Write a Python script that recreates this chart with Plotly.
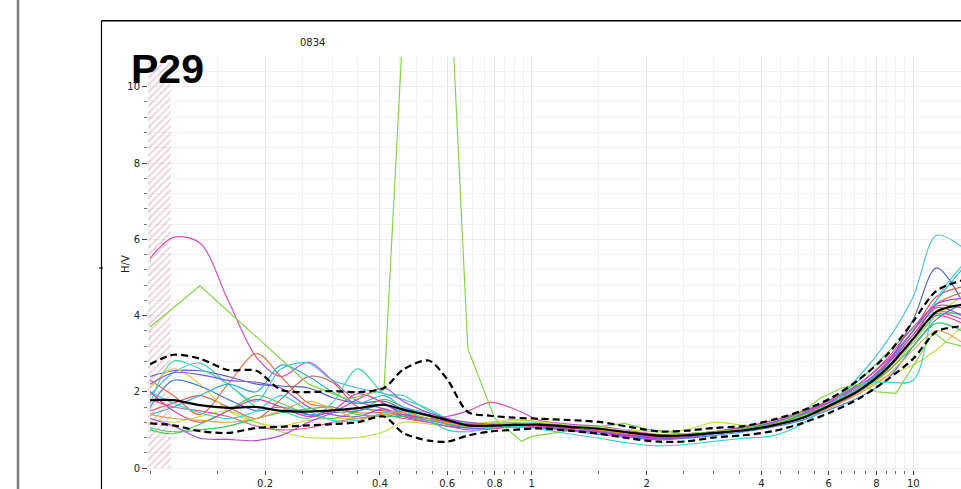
import plotly.graph_objects as go

# ---- H/V spectral ratio data (station P29, record 0834) ----
FREQ = [0.10, 0.115, 0.135, 0.16, 0.19, 0.22, 0.26, 0.30, 0.35, 0.41, 0.46, 0.537,
        0.60, 0.68, 0.78, 0.90, 1.05, 1.25, 1.5, 1.8, 2.15, 2.55, 3.0, 3.6, 4.3,
        5.1, 6.1, 7.2, 8.5, 10.0, 11.5, 13.4]

HV_MEAN = [1.78, 1.78, 1.65, 1.58, 1.60, 1.50, 1.48, 1.51, 1.57, 1.66, 1.53, 1.38,
           1.26, 1.12, 1.11, 1.13, 1.14, 1.08, 1.03, 0.93, 0.85, 0.86, 0.92, 0.99, 1.12,
           1.31, 1.66, 2.03, 2.60, 3.39, 4.10, 4.28]
HV_UPPER = [2.72, 2.97, 2.87, 2.57, 2.55, 2.05, 1.99, 2.02, 1.99, 2.10, 2.58, 2.82,
            2.33, 1.47, 1.37, 1.32, 1.29, 1.26, 1.21, 1.08, 0.96, 0.98, 1.05, 1.10, 1.27,
            1.50, 1.84, 2.32, 2.95, 3.85, 4.65, 4.92]
HV_LOWER = [1.17, 1.12, 0.97, 0.92, 1.05, 1.08, 1.12, 1.15, 1.20, 1.35, 0.92, 0.72,
            0.69, 0.85, 0.96, 1.00, 1.04, 0.98, 0.90, 0.78, 0.69, 0.70, 0.80, 0.86, 0.97,
            1.17, 1.47, 1.82, 2.30, 2.87, 3.58, 3.72]

# individual time windows
WIN_MAGENTA = [5.50, 6.05, 5.90, 4.40, 2.90, 2.40, 2.78, 2.30, 1.75, 1.55, 1.35, 1.30,
               1.35, 1.50, 1.72, 1.55, 1.25, 1.15, 1.10, 0.98, 0.88, 0.90, 0.95, 1.08, 1.20,
               1.42, 1.70, 2.05, 2.60, 3.40, 4.05, 3.90]
WIN_CYAN = [1.90, 2.50, 2.75, 2.20, 1.75, 2.60, 2.75, 2.30, 2.10, 1.95, 1.80, 1.55,
            1.30, 1.15, 1.20, 1.18, 1.12, 1.05, 0.98, 0.90, 0.82, 0.86, 0.95, 1.05, 1.18,
            1.40, 1.70, 2.40, 3.30, 4.50, 6.10, 5.80]
WIN_INDIGO = [2.40, 2.55, 2.55, 2.40, 2.20, 2.15, 2.10, 1.85, 1.70, 1.75, 1.55, 1.40,
              1.20, 1.10, 1.10, 1.15, 1.10, 1.00, 0.95, 0.85, 0.78, 0.80, 0.90, 1.00, 1.12,
              1.33, 1.72, 2.10, 2.70, 3.90, 5.25, 4.40]
WIN_ORANGE = [2.30, 1.90, 1.40, 2.20, 3.00, 2.40, 1.70, 1.60, 1.45, 1.45, 1.35, 1.25,
              1.20, 1.15, 1.10, 1.12, 1.15, 1.10, 1.05, 0.95, 0.88, 0.90, 0.95, 1.02, 1.15,
              1.32, 1.62, 2.00, 2.55, 3.40, 4.30, 4.60]
WIN_RED = [1.50, 1.70, 1.90, 1.60, 1.30, 1.80, 2.40, 2.25, 1.60, 1.50, 1.40, 1.30,
           1.20, 1.12, 1.12, 1.15, 1.15, 1.08, 1.02, 0.92, 0.84, 0.86, 0.92, 1.00, 1.12,
           1.32, 1.70, 2.10, 2.75, 3.60, 4.50, 4.75]
WIN_TEAL = [1.70, 2.80, 2.60, 2.20, 1.60, 1.50, 1.30, 1.70, 2.60, 1.95, 1.90, 1.50,
            1.30, 1.15, 1.15, 1.20, 1.20, 1.12, 1.05, 0.92, 0.85, 0.87, 0.90, 0.98, 1.10,
            1.35, 1.72, 2.10, 2.65, 3.30, 4.00, 4.05]
WIN_YELLOW = [2.10, 2.60, 2.20, 1.50, 1.20, 1.10, 1.25, 1.30, 1.30, 1.40, 1.50, 1.35,
              1.25, 1.15, 1.20, 1.28, 1.20, 1.10, 1.00, 0.90, 0.85, 0.90, 0.95, 1.05, 1.18,
              1.38, 1.70, 2.00, 2.40, 2.70, 3.10, 3.70]
WIN_LIME = [1.30, 1.20, 1.35, 1.50, 1.20, 0.95, 0.80, 0.78, 0.80, 0.95, 1.20, 1.15,
            1.10, 1.08, 1.15, 1.25, 1.22, 1.12, 1.05, 1.00, 0.95, 1.00, 1.20, 1.12, 1.15,
            1.35, 1.65, 2.00, 2.50, 3.30, 4.00, 4.50]
WIN_GREEN = [1.00, 0.90, 1.15, 1.50, 1.90, 1.70, 1.40, 1.30, 1.50, 1.80, 1.60, 1.35,
             1.25, 1.15, 1.10, 1.12, 1.12, 1.05, 1.00, 0.90, 0.82, 0.86, 0.95, 1.05, 1.20,
             1.45, 1.80, 2.30, 3.00, 3.65, 4.10, 4.00]
WIN_BLUE = [1.60, 2.30, 2.15, 1.80, 1.50, 1.60, 1.40, 1.45, 1.50, 1.65, 1.45, 1.30,
            1.15, 1.05, 1.05, 1.08, 1.05, 0.98, 0.88, 0.80, 0.74, 0.78, 0.85, 0.95, 1.08,
            1.25, 1.55, 1.85, 2.30, 3.20, 3.90, 4.30]
WIN_SKY = [1.40, 1.60, 1.90, 2.20, 2.00, 2.70, 2.40, 2.00, 1.70, 1.90, 1.60, 1.45,
           1.30, 1.20, 1.12, 1.12, 1.15, 1.10, 1.00, 0.88, 0.80, 0.82, 0.90, 0.98, 1.10,
           1.30, 1.60, 2.05, 2.70, 3.60, 4.40, 5.20]
WIN_VIOLET = [2.20, 2.50, 2.45, 2.30, 2.25, 2.10, 1.60, 1.40, 1.35, 1.55, 1.35, 1.20,
              1.10, 1.05, 1.05, 1.10, 1.10, 1.02, 0.95, 0.85, 0.80, 0.82, 0.90, 1.02, 1.20,
              1.45, 1.75, 2.15, 2.70, 3.50, 4.20, 4.00]
WIN_PURPLE = [1.30, 1.10, 0.78, 0.75, 0.72, 0.85, 1.20, 1.45, 1.80, 2.10, 1.75, 1.45,
              1.30, 1.20, 1.15, 1.12, 1.08, 1.00, 0.92, 0.82, 0.76, 0.80, 0.92, 1.02, 1.15,
              1.40, 1.75, 2.20, 2.80, 3.60, 4.30, 4.45]
WIN_PINK = [1.80, 1.60, 1.50, 1.35, 1.10, 1.00, 1.05, 1.20, 1.30, 1.40, 1.30, 1.20,
            1.10, 1.00, 1.02, 1.08, 1.10, 1.05, 1.00, 0.90, 0.83, 0.85, 0.92, 1.00, 1.12,
            1.30, 1.60, 2.00, 2.60, 3.50, 4.00, 3.80]
WIN_EMERALD = [1.05, 0.95, 1.00, 1.10, 1.30, 1.45, 1.55, 1.60, 1.40, 1.35, 1.35, 1.25,
               1.15, 1.10, 1.08, 1.10, 1.15, 1.10, 1.02, 0.92, 0.86, 0.88, 0.95, 1.03, 1.15,
               1.38, 1.68, 2.05, 2.50, 3.20, 3.80, 3.60]
WIN_AQUA = [2.00, 1.70, 1.45, 1.30, 1.50, 1.90, 1.50, 1.25, 1.25, 1.45, 1.50, 1.25,
            1.00, 0.95, 1.05, 1.10, 1.02, 0.90, 0.78, 0.65, 0.58, 0.62, 0.70, 0.78, 0.85,
            1.15, 1.70, 2.20, 2.25, 2.30, 4.40, 5.30]
WIN_ROSE = [2.00, 1.50, 1.20, 1.50, 1.80, 1.60, 1.35, 1.50, 1.95, 1.70, 1.40, 1.30,
            1.22, 1.15, 1.12, 1.15, 1.12, 1.05, 0.98, 0.88, 0.82, 0.86, 0.95, 1.08, 1.25,
            1.48, 1.80, 2.20, 2.85, 3.70, 4.25, 4.20]
WIN_AMBER = [1.40, 1.30, 1.25, 1.20, 1.30, 1.50, 1.75, 1.55, 1.30, 1.40, 1.45, 1.30,
             1.18, 1.12, 1.15, 1.18, 1.15, 1.10, 1.00, 0.90, 0.85, 0.88, 0.95, 1.00, 1.10,
             1.30, 1.60, 1.95, 2.40, 3.10, 3.60, 3.30]

# window with a transient near 0.5 Hz (sampled on its own frequency set)
SPIKE_FREQ = [0.10, 0.135, 0.26, 0.33, 0.41, 0.537, 0.68, 0.80, 0.94, 1.00, 1.15, 1.40,
              1.75, 2.00, 2.50, 3.00, 3.60, 4.30, 5.10, 5.70, 6.50, 7.20, 8.00, 9.00,
              10.4, 11.3, 12.2, 13.4]
SPIKE_HV = [3.70, 4.78, 2.20, 1.80, 2.05, 24.5, 3.13, 1.30, 0.70, 0.83, 0.92, 1.05,
            1.17, 1.02, 0.90, 0.95, 1.02, 1.12, 1.45, 1.83, 2.10, 2.20, 2.00, 1.96,
            2.95, 3.56, 3.30, 3.20]

WINDOWS = [
    (WIN_MAGENTA, "#d24cc6"), (WIN_CYAN, "#4cc0dc"), (WIN_INDIGO, "#5060c4"),
    (WIN_ORANGE, "#e0703c"), (WIN_RED, "#d45858"), (WIN_TEAL, "#3fd6a8"),
    (WIN_YELLOW, "#d8d23c"), (WIN_LIME, "#b6e044"), (WIN_GREEN, "#52c852"),
    (WIN_BLUE, "#3c80e0"), (WIN_SKY, "#34aae0"), (WIN_VIOLET, "#8c50e0"),
    (WIN_PURPLE, "#b444d8"), (WIN_PINK, "#e0589a"), (WIN_EMERALD, "#44c068"),
    (WIN_AQUA, "#3ad0d8"), (WIN_ROSE, "#d444a4"), (WIN_AMBER, "#e8a444"),
]

# rejected low-frequency band
BAND_F = [0.0987, 0.1132]
BAND_HV = [0.0, 10.65]

X_TICKS = [0.2, 0.4, 0.6, 0.8, 1, 2, 4, 6, 8, 10]
X_TICK_TEXT = ["0.2", "0.4", "0.6", "0.8", "1", "2", "4", "6", "8", "10"]
X_MINOR = [0.1, 0.15, 0.25, 0.3, 0.35, 0.45, 0.5, 0.55, 0.65, 0.7, 0.75, 0.85, 0.9, 0.95,
           1.5, 2.5, 3, 3.5, 4.5, 5, 5.5, 6.5, 7, 7.5, 8.5, 9, 9.5, 15]
Y_TICKS = [0, 2, 4, 6, 8, 10]

# ---- page geometry ----
W, H = 961, 489
ML, MR, MT, MB = 148, 0, 57, 17


def pxx(p):
    return (p - ML) / (W - ML - MR)


def pxy(p):
    return (H - MB - p) / (H - MT - MB)


fig = go.Figure()

fig.add_trace(go.Scatter(
    x=[BAND_F[0], BAND_F[1], BAND_F[1], BAND_F[0], BAND_F[0]],
    y=[BAND_HV[0], BAND_HV[0], BAND_HV[1], BAND_HV[1], BAND_HV[0]],
    mode="lines", line=dict(width=0), fill="toself",
    fillcolor="rgba(255,255,255,0)",
    fillpattern=dict(shape="/", fgcolor="#d497ad", bgcolor="rgba(255,255,255,0)",
                     size=5, solidity=0.3),
    hoverinfo="skip", showlegend=False,
))

for vals, col in WINDOWS:
    fig.add_trace(go.Scatter(
        x=FREQ, y=vals, mode="lines",
        line=dict(color=col, width=1.15, shape="spline", smoothing=0.9),
        showlegend=False, hoverinfo="skip",
    ))

fig.add_trace(go.Scatter(
    x=SPIKE_FREQ, y=SPIKE_HV, mode="lines",
    line=dict(color="#80d444", width=1.15),
    showlegend=False, hoverinfo="skip",
))

for vals in (HV_UPPER, HV_LOWER):
    fig.add_trace(go.Scatter(
        x=FREQ, y=vals, mode="lines",
        line=dict(color="black", width=2.2, dash="7px,4px", shape="spline", smoothing=0.8),
        showlegend=False, hoverinfo="skip",
    ))

fig.add_trace(go.Scatter(
    x=FREQ, y=HV_MEAN, mode="lines",
    line=dict(color="black", width=2.2, shape="spline", smoothing=0.8),
    showlegend=False, hoverinfo="skip",
))

tick_font = dict(family="DejaVu Sans", size=10, color="#222222")

fig.update_layout(
    width=W, height=H,
    margin=dict(l=ML, r=MR, t=MT, b=MB, pad=0),
    paper_bgcolor="white", plot_bgcolor="white",
    xaxis=dict(
        type="log", range=[-1.0057, 1.125],
        tickmode="array", tickvals=X_TICKS, ticktext=X_TICK_TEXT,
        ticks="outside", ticklen=4, tickcolor="#444444", tickwidth=1,
        showgrid=True, gridcolor="#e6e6e6", gridwidth=1,
        showline=False, zeroline=False, tickfont=tick_font,
        minor=dict(tickmode="array", tickvals=X_MINOR, ticks="outside", ticklen=3,
                   tickcolor="#666666", showgrid=True, gridcolor="#efefef", gridwidth=1),
    ),
    yaxis=dict(
        range=[-0.052, 10.78],
        tickmode="array", tickvals=Y_TICKS,
        ticks="outside", ticklen=5, tickcolor="#444444", tickwidth=1,
        showgrid=True, gridcolor="#ececec", gridwidth=1,
        showline=False, zeroline=False, tickfont=tick_font,
        minor=dict(dtick=0.4, tick0=0, ticks="outside", ticklen=3, tickcolor="#777777",
                   showgrid=True, gridcolor="#f1f1f1", gridwidth=1),
    ),
    shapes=[
        dict(type="line", xref="paper", yref="paper",
             x0=pxx(18), x1=pxx(18), y0=pxy(-5), y1=pxy(495),
             line=dict(color="#7c7c7c", width=2.5)),
        dict(type="line", xref="paper", yref="paper",
             x0=pxx(101.5), x1=pxx(970), y0=pxy(20.5), y1=pxy(20.5),
             line=dict(color="black", width=1.5)),
        dict(type="line", xref="paper", yref="paper",
             x0=pxx(101.5), x1=pxx(101.5), y0=pxy(20.5), y1=pxy(495),
             line=dict(color="black", width=1.2)),
        dict(type="line", xref="paper", yref="paper",
             x0=pxx(99), x1=pxx(103), y0=pxy(269), y1=pxy(269),
             line=dict(color="black", width=1)),
    ],
    annotations=[
        dict(text="<b>P29</b>", xref="paper", yref="paper",
             x=pxx(129), y=pxy(69), xanchor="left", yanchor="middle",
             showarrow=False,
             font=dict(family="Liberation Sans", size=41, color="black")),
        dict(text="0834", xref="paper", yref="paper",
             x=pxx(312), y=pxy(42), xanchor="center", yanchor="middle",
             showarrow=False, font=dict(family="DejaVu Sans", size=10, color="#222222")),
        dict(text="H/V", xref="paper", yref="paper",
             x=pxx(126), y=pxy(265), xanchor="center", yanchor="middle",
             textangle=-90, showarrow=False,
             font=dict(family="DejaVu Sans", size=10, color="#222222")),
    ],
)

fig.write_html("out.html")
